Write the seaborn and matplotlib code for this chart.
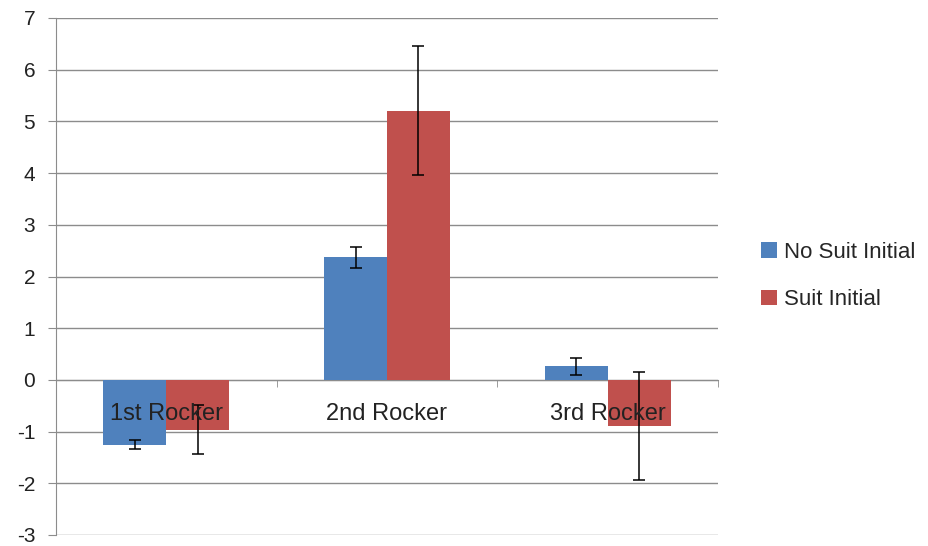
import matplotlib
matplotlib.use("Agg")
import matplotlib.pyplot as plt
import matplotlib.transforms as mtransforms
import seaborn as sns
import pandas as pd
import numpy as np

categories = ["1st Rocker", "2nd Rocker", "3rd Rocker"]
series = ["No Suit Initial", "Suit Initial"]
no_suit = [-1.25, 2.37, 0.26]
suit = [-0.96, 5.21, -0.89]
no_suit_err = [0.08, 0.20, 0.16]
suit_err = [0.47, 1.25, 1.04]
colors = ["#4F81BD", "#C0504D"]
yticks = [-3, -2, -1, 0, 1, 2, 3, 4, 5, 6, 7]

df = pd.DataFrame({
    "cat": categories * 2,
    "series": [series[0]] * 3 + [series[1]] * 3,
    "val": no_suit + suit,
    "err": no_suit_err + suit_err,
})

sns.set_style("white")
plt.rcParams["font.family"] = ["Liberation Sans", "DejaVu Sans"]

fig = plt.figure(figsize=(9.29, 5.46), dpi=100)
ax = fig.add_axes([56/929, 1-535/546, (718-56)/929, (535-18)/546])

sns.barplot(data=df, x="cat", y="val", hue="series", palette=colors,
            width=0.57, gap=0, errorbar=None, ax=ax, saturation=1,
            edgecolor="none", linewidth=0, zorder=2)

# error bars from the drawn bars
bars = [p for p in ax.patches if p.get_width() > 0]
errs = no_suit_err + suit_err
vals = no_suit + suit
xs = [p.get_x() + p.get_width()/2 for p in bars[:6]]
ax.errorbar(xs, vals, yerr=errs, fmt="none", ecolor="black", elinewidth=1.1,
            capsize=4.5, capthick=1.1, zorder=4)

ax.set_ylim(-3, 7)
ax.set_xlim(-0.5, 2.5)
ax.set_yticks(yticks)
ax.set_yticklabels([str(t) for t in yticks], fontsize=15, color="#222222")
ax.yaxis.grid(True, color="#8c8c8c", linewidth=1.0)
ax.set_axisbelow(True)
ax.set_xlabel("")
ax.set_ylabel("")

for s in ["top", "right"]:
    ax.spines[s].set_visible(False)
ax.spines["left"].set_color("#8c8c8c")
ax.spines["bottom"].set_color("#8c8c8c")
ax.spines["bottom"].set_position(("data", 0))
ax.spines["bottom"].set_zorder(1)

ax.tick_params(axis="y", which="major", length=6, color="#8c8c8c", direction="out", left=True, pad=9)
ax.set_xticks([0, 1, 2])
ax.set_xticklabels([])
ax.tick_params(axis="x", which="major", length=0)
ax.set_xticks([0.5, 1.5, 2.5], minor=True)
ax.tick_params(axis="x", which="minor", length=5, color="#8c8c8c", direction="out", bottom=True)

# category labels drawn above the bars, just below the zero axis
offset = mtransforms.offset_copy(ax.transData, fig=fig, x=0, y=-34/100*72, units="points")
for i, c in enumerate(categories):
    ax.text(i, 0, c, transform=offset, ha="center", va="center", fontsize=17,
            color="#222222", zorder=10)

handles, labels = ax.get_legend_handles_labels()
ax.legend(handles, labels, loc="center left", bbox_to_anchor=(761/929, 1-276/546),
          bbox_transform=fig.transFigure, frameon=False, fontsize=16,
          handlelength=0.7, handleheight=0.7, handletextpad=0.35,
          labelspacing=1.2, borderaxespad=0, borderpad=0)

fig.savefig("out.png", dpi=100)
